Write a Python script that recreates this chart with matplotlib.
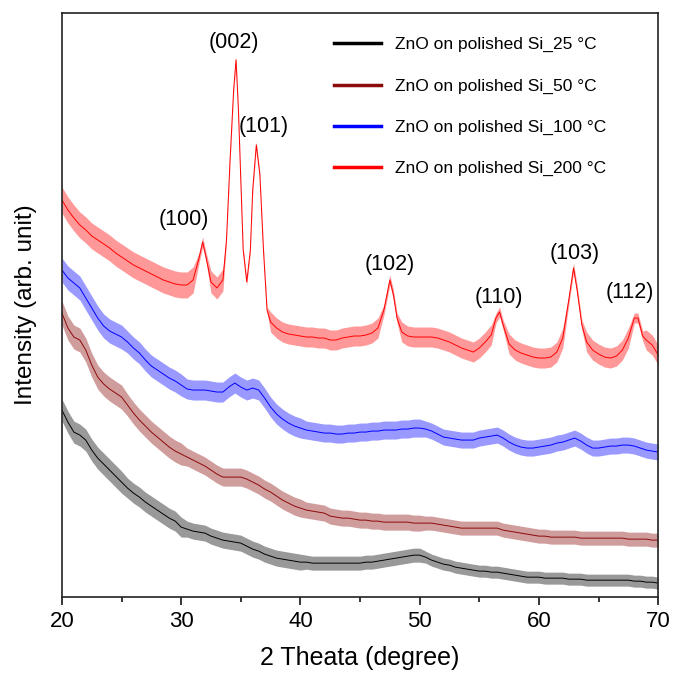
import matplotlib
matplotlib.use("Agg")
import matplotlib.pyplot as plt
from matplotlib.ticker import MultipleLocator
import numpy as np

plt.rcParams['font.family'] = ['Liberation Sans', 'DejaVu Sans']

# 2 theta sampling for the three low temperature scans
theta = np.arange(20, 70.01, 0.5)

# mean intensity (arb. unit)
int_25 = [190, 178, 168, 165, 160, 150, 142, 136, 130, 124,
          118, 112, 107, 103, 98, 94, 90, 86, 82, 79,
          73, 71, 69, 68, 67, 64, 62, 60, 59, 58,
          57, 54, 51, 49, 46, 44, 42, 41, 40, 39,
          38, 38, 37, 37, 37, 37, 37, 37, 37, 37,
          37, 38, 38, 39, 40, 41, 42, 43, 44, 45,
          45, 43, 40, 38, 36, 35, 33, 32, 31, 30,
          29, 29, 28, 28, 27, 26, 25, 24, 23, 23,
          23, 22, 22, 22, 22, 21, 21, 21, 20, 20,
          20, 20, 20, 20, 20, 20, 19, 19, 18, 18,
          17]

int_50 = [287, 272, 263, 260, 250, 235, 223, 216, 211, 207,
          203, 195, 187, 180, 174, 168, 163, 158, 153, 149,
          146, 143, 140, 137, 134, 130, 126, 123, 123, 123,
          123, 121, 118, 115, 111, 108, 104, 100, 97, 94,
          92, 90, 89, 88, 87, 84, 83, 82, 82, 81,
          80, 80, 79, 79, 78, 78, 78, 78, 78, 77,
          77, 77, 77, 76, 75, 74, 73, 72, 72, 72,
          72, 72, 72, 72, 70, 69, 68, 67, 66, 65,
          64, 64, 63, 63, 63, 63, 63, 62, 62, 62,
          62, 62, 62, 62, 62, 61, 61, 61, 61, 60,
          60]

int_100 = [330, 322, 317, 312, 302, 292, 282, 274, 269, 266,
           263, 258, 252, 247, 240, 234, 230, 226, 222, 219,
           215, 211, 210, 210, 210, 209, 208, 208, 213, 217,
           213, 210, 212, 210, 202, 193, 186, 181, 177, 174,
           172, 170, 169, 168, 167, 167, 166, 166, 167, 167,
           168, 168, 169, 169, 170, 170, 170, 171, 171, 172,
           172, 171, 169, 166, 163, 162, 161, 160, 160, 160,
           162, 163, 164, 165, 162, 158, 155, 153, 152, 152,
           153, 154, 155, 157, 158, 160, 162, 159, 155, 152,
           152, 153, 154, 154, 155, 155, 154, 152, 150, 149,
           148]

# 200 C scan, sampled finer around the ZnO reflections
theta_200 = [20, 20.5, 21, 21.5, 22, 22.5, 23, 23.5, 24, 24.5,
             25, 25.5, 26, 26.5, 27, 27.5, 28, 28.5, 29, 29.5,
             30, 30.5, 31, 31.5, 31.8, 32.1, 32.5, 33, 33.5, 33.8,
             34.1, 34.4, 34.6, 34.8, 35.0, 35.2, 35.5, 35.8, 36.0, 36.3,
             36.6, 36.9, 37.2, 37.5, 38, 38.5, 39, 39.5, 40, 40.5,
             41, 41.5, 42, 42.5, 43, 43.5, 44, 44.5, 45, 45.5,
             46, 46.5, 47, 47.5, 47.8, 48.1, 48.5, 49, 49.5, 50,
             50.5, 51, 51.5, 52, 52.5, 53, 53.5, 54, 54.5, 55,
             55.5, 56, 56.4, 56.7, 57.0, 57.5, 58, 58.5, 59, 59.5,
             60, 60.5, 61, 61.5, 62, 62.5, 62.9, 63.2, 63.6, 64,
             64.5, 65, 65.5, 66, 66.5, 67, 67.5, 68, 68.3, 68.7,
             69, 69.5, 70]
int_200 = [400, 390, 382, 375, 370, 364, 360, 356, 352, 347,
           343, 339, 335, 332, 329, 326, 323, 320, 318, 316,
           315, 315, 320, 342, 358, 342, 318, 312, 320, 360,
           440, 510, 540, 490, 420, 350, 318, 350, 410, 455,
           425, 350, 290, 278, 272, 268, 266, 265, 264, 263,
           263, 262, 262, 260, 260, 262, 263, 264, 264, 265,
           267, 272, 290, 320, 305, 282, 268, 264, 263, 263,
           263, 263, 262, 260, 258, 255, 252, 250, 248, 252,
           258, 265, 282, 288, 275, 256, 250, 247, 245, 243,
           242, 242, 243, 248, 262, 300, 332, 310, 275, 258,
           250, 246, 243, 242, 244, 250, 262, 282, 282, 264,
           260, 255, 245]

# half height of the noise band around each scan
noise_25 = [11] * 11 + [10] * 10 + [8] * 20 + [7] * 20 + [6] * 40
noise_50 = [12] * 11 + [11] * 10 + [9] * 20 + [8] * 20 + [7] * 40
noise_100 = [12] * 11 + [11] * 10 + [10] * 20 + [9] * 20 + [8] * 40
noise_200 = ([13] * 23 + [5] * 3 + [11] * 3 + [3] * 14 + [10] * 19 + [5] * 4
             + [10] * 16 + [5] * 3 + [10] * 10 + [5] * 4 + [10] * 8 + [5] * 3 + [10] * 3)

labels = ['ZnO on polished Si_25 °C', 'ZnO on polished Si_50 °C',
          'ZnO on polished Si_100 °C', 'ZnO on polished Si_200 °C']
colors = ['black', '#8b0a0a', '#0000ff', '#ff0000']

# reflections and where their labels sit
hkl = ['(100)', '(002)', '(101)', '(102)', '(110)', '(103)', '(112)']
hkl_x = [30.2, 34.4, 36.9, 47.5, 56.6, 63.0, 67.6]
hkl_y = [380, 557, 473, 335, 302, 346, 307]

fig = plt.figure(figsize=(6.73, 6.74), dpi=100)
ax = fig.add_axes([0.092, 0.114, 0.886, 0.867])

scans = [(theta, int_25, noise_25), (theta, int_50, noise_50),
         (theta, int_100, noise_100), (theta_200, int_200, noise_200)]
for (x, y, n), c, lab in zip(scans, colors, labels):
    y = np.array(y, dtype=float)
    n = np.array(n, dtype=float)
    ax.fill_between(x, y - n, y + n, color=c, alpha=0.4, lw=0)
    ax.plot(x, y, color=c, lw=0.7, label=lab)

for name, x, y in zip(hkl, hkl_x, hkl_y):
    ax.text(x, y, name, fontsize=15.5, ha='center', va='center')

ax.set_xlim(20, 70)
ax.set_ylim(3, 587)
ax.xaxis.set_major_locator(MultipleLocator(10))
ax.xaxis.set_minor_locator(MultipleLocator(5))
ax.tick_params(axis='x', which='major', direction='out', length=6, width=1.1, labelsize=16, pad=4)
ax.tick_params(axis='x', which='minor', direction='out', length=3.5, width=1.1)
ax.set_yticks([])
for sp in ax.spines.values():
    sp.set_linewidth(1.2)
    sp.set_color('#222222')

ax.set_xlabel('2 Theata (degree)', fontsize=18, labelpad=10)
ax.set_ylabel('Intensity (arb. unit)', fontsize=17.5, labelpad=18)

leg = ax.legend(loc='upper left', bbox_to_anchor=(0.43, 0.985), frameon=False,
                fontsize=12.5, handlelength=2.7, handletextpad=0.8, labelspacing=1.5)
for line in leg.get_lines():
    line.set_linewidth(2.5)

fig.savefig('out.png', dpi=100)
